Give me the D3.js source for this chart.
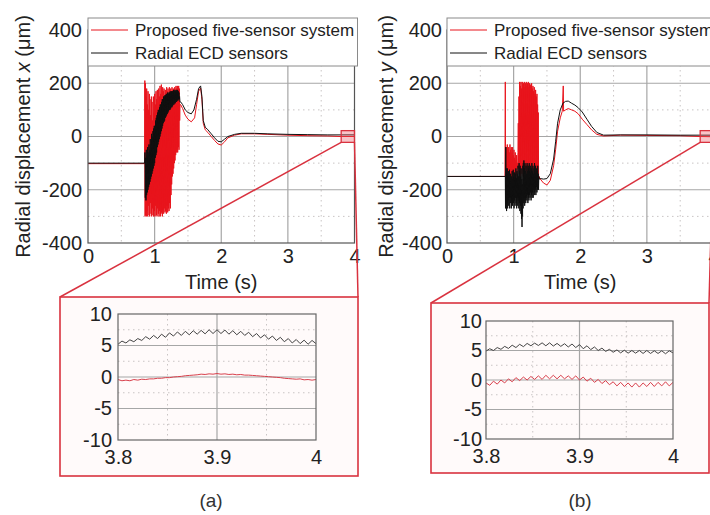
<!DOCTYPE html>
<html><head><meta charset="utf-8">
<script src="https://cdn.jsdelivr.net/npm/d3@7"></script>
<style>
html,body{margin:0;padding:0;background:#fff;}
svg{display:block;font-family:"Liberation Sans",Arial,sans-serif;}
</style></head><body>
<svg id="chart" width="710" height="515"></svg>
<script>
// ---------------- data ----------------
const seriesNames = ["Proposed five-sensor system", "Radial ECD sensors"];
const timeTicks = [0, 1, 2, 3, 4];
const dispTicks = [-400, -200, 0, 200, 400];
const zoomTimeTicks = [3.8, 3.9, 4];
const zoomDispTicks = [-10, -5, 0, 5, 10];
const panelTags = ["(a)", "(b)"];

// (a) radial displacement x, [time s, displacement um]
const proposedX = [
  [0,-102],[0.85,-102],
  [0.853,210],[0.857,-300],[0.861,200],[0.866,-295],[0.871,150],[0.876,-300],[0.881,180],[0.886,-280],
  [0.891,120],[0.896,-300],[0.901,170],[0.906,-260],[0.911,100],[0.916,-295],[0.921,160],[0.926,-300],
  [0.931,140],[0.936,-250],[0.941,80],[0.946,-290],[0.951,150],[0.956,-300],[0.961,130],[0.966,-270],
  [0.971,60],[0.976,-295],[0.981,150],[0.986,-300],[0.991,90],[0.996,-280],[1.001,160],[1.006,-300],
  [1.011,120],[1.016,-260],[1.021,170],[1.026,-295],[1.031,140],[1.036,-300],[1.041,175],[1.046,-270],
  [1.051,110],[1.056,-290],[1.061,180],[1.066,-300],[1.071,150],[1.076,-280],[1.081,190],[1.086,-300],
  [1.091,160],[1.096,-290],[1.101,195],[1.106,-285],[1.111,140],[1.116,-300],[1.121,185],[1.126,-280],
  [1.131,170],[1.136,-290],[1.141,180],[1.146,-270],[1.151,150],[1.156,-285],[1.161,175],[1.166,-280],
  [1.171,160],[1.176,-290],[1.181,185],[1.186,-260],[1.191,170],[1.196,-285],[1.201,180],[1.206,-270],
  [1.211,160],[1.216,-280],[1.221,185],[1.226,-250],[1.231,175],[1.236,-270],[1.241,180],[1.246,-220],
  [1.251,170],[1.256,-180],[1.261,185],[1.266,-150],[1.271,175],[1.276,-140],[1.281,180],[1.286,-120],
  [1.291,170],[1.296,-100],[1.301,185],[1.306,-90],[1.311,175],[1.316,-70],[1.321,190],[1.326,-60],
  [1.331,180],[1.336,-50],[1.341,190],[1.346,-60],[1.351,185],[1.356,-40],[1.361,190],[1.366,-50],
  [1.371,180],[1.376,60],[1.381,120],
  [1.39,120],[1.42,105],[1.46,80],[1.5,65],[1.55,55],[1.6,70],[1.63,120],[1.66,170],[1.69,182],
  [1.71,140],[1.73,50],[1.76,25],[1.8,15],[1.85,0],[1.9,-15],[1.95,-28],[2.0,-32],[2.05,-20],
  [2.1,-5],[2.2,5],[2.3,10],[2.5,10],[2.7,8],[3.0,5],[3.3,3],[3.6,2],[3.8,0],[4.0,0]
];
const ecdX = [
  [0,-100],[0.85,-100],
  [0.855,-60],[0.86,-230],[0.865,-80],[0.87,-240],[0.875,-50],[0.88,-220],[0.885,-70],[0.89,-210],
  [0.895,-40],[0.9,-200],[0.905,-60],[0.91,-190],[0.915,-30],[0.92,-180],[0.925,-50],[0.93,-170],
  [0.935,-10],[0.94,-160],[0.945,-30],[0.95,-150],[0.955,10],[0.96,-140],[0.965,0],[0.97,-130],
  [0.975,20],[0.98,-120],[0.985,30],[0.99,-110],[0.995,40],[1.0,-100],[1.005,40],[1.01,-80],
  [1.015,60],[1.02,-70],[1.025,70],[1.03,-60],[1.035,80],[1.04,-40],[1.045,90],[1.05,-30],
  [1.055,100],[1.06,-20],[1.065,100],[1.07,-10],[1.075,110],[1.08,0],[1.085,120],[1.09,10],
  [1.095,120],[1.1,20],[1.105,130],[1.11,30],[1.115,140],[1.12,40],[1.125,140],[1.13,50],
  [1.135,150],[1.14,55],[1.145,150],[1.15,60],[1.155,155],[1.16,70],[1.165,155],[1.17,75],
  [1.175,160],[1.18,80],[1.185,160],[1.19,85],[1.195,165],[1.2,90],[1.205,160],[1.21,95],
  [1.215,165],[1.22,100],[1.225,165],[1.23,100],[1.235,170],[1.24,105],[1.245,165],[1.25,110],
  [1.255,170],[1.26,110],[1.265,170],[1.27,115],[1.275,170],[1.28,120],[1.285,175],[1.29,120],
  [1.295,170],[1.3,125],[1.305,175],[1.31,125],[1.315,170],[1.32,130],[1.325,175],[1.33,130],
  [1.335,170],[1.34,135],[1.345,175],[1.35,135],[1.355,170],[1.36,140],[1.365,165],[1.37,140],
  [1.375,150],[1.38,130],
  [1.39,130],[1.42,120],[1.46,100],[1.5,90],[1.55,85],[1.59,100],[1.63,140],[1.66,180],[1.69,190],
  [1.71,150],[1.73,60],[1.76,35],[1.8,25],[1.85,10],[1.9,-5],[1.95,-18],[2.0,-20],[2.05,-10],
  [2.1,0],[2.2,8],[2.3,12],[2.5,12],[2.7,10],[3.0,8],[3.3,7],[3.6,6],[3.8,6],[4.0,6]
];

// (b) radial displacement y, [time s, displacement um]
const proposedY = [
  [0,-150],[0.87,-150],[0.875,205],[0.88,-250],
  [0.885,-60],[0.89,-230],[0.895,-40],[0.9,-200],[0.905,-30],[0.91,-220],[0.915,-50],[0.92,-190],
  [0.925,-40],[0.93,-210],[0.935,-60],[0.94,-180],[0.945,-30],[0.95,-200],[0.955,-50],[0.96,-170],
  [0.965,-40],[0.97,-190],[0.975,-60],[0.98,-160],[0.985,-40],[0.99,-180],[0.995,-70],[1.0,-150],
  [1.005,-50],[1.01,-170],[1.015,-80],[1.02,-150],[1.025,-60],[1.03,-160],[1.035,-90],[1.04,-140],
  [1.045,-70],[1.05,-150],[1.055,-100],[1.06,-120],[1.065,-60],[1.07,50],[1.075,-120],[1.08,150],
  [1.085,-140],[1.09,205],[1.095,-130],[1.1,190],[1.105,-150],[1.11,205],[1.115,-120],[1.12,180],
  [1.125,-140],[1.13,205],[1.135,-110],[1.14,195],[1.145,-150],[1.15,200],[1.155,-130],[1.16,205],
  [1.165,-140],[1.17,185],[1.175,-120],[1.18,200],[1.185,-150],[1.19,205],[1.195,-130],[1.2,190],
  [1.205,-140],[1.21,200],[1.215,-120],[1.22,205],[1.225,-150],[1.23,185],[1.235,-130],[1.24,200],
  [1.245,-140],[1.25,195],[1.255,-120],[1.26,190],[1.265,-150],[1.27,200],[1.275,-130],[1.28,180],
  [1.285,-140],[1.29,190],[1.295,-120],[1.3,170],[1.305,-140],[1.31,185],[1.315,-130],[1.32,160],
  [1.325,-150],[1.33,175],[1.335,-130],[1.34,150],[1.345,-140],[1.35,160],[1.355,-150],[1.36,120],
  [1.365,-140],[1.37,90],[1.375,-160],[1.38,-150],
  [1.4,-160],[1.45,-175],[1.5,-182],[1.55,-165],[1.6,-110],[1.63,-50],[1.66,20],[1.7,70],[1.73,95],
  [1.745,190],[1.75,95],[1.78,100],[1.82,105],[1.87,100],[1.92,95],[1.97,85],[2.03,65],[2.1,45],
  [2.17,25],[2.25,8],[2.35,2],[2.6,5],[3.0,4],[3.5,3],[3.8,0],[4.0,-1]
];
const ecdY = [
  [0,-150],[0.875,-150],
  [0.878,-270],[0.882,-40],[0.886,-260],[0.89,-120],[0.894,-280],[0.898,-140],[0.902,-250],[0.906,-120],
  [0.91,-270],[0.914,-150],[0.918,-240],[0.922,-130],[0.926,-260],[0.93,-160],[0.934,-230],[0.938,-125],
  [0.942,-270],[0.946,-160],[0.95,-250],[0.954,-140],[0.958,-230],[0.962,-170],[0.966,-270],[0.97,-150],
  [0.974,-240],[0.978,-130],[0.982,-260],[0.986,-160],[0.99,-220],[0.994,-125],[0.998,-250],[1.002,-150],
  [1.006,-270],[1.01,-135],[1.014,-240],[1.018,-165],[1.022,-260],[1.026,-140],[1.03,-230],[1.034,-120],
  [1.038,-250],[1.042,-155],[1.046,-270],[1.05,-130],[1.054,-230],[1.058,-140],[1.062,-260],[1.066,-110],
  [1.07,-240],[1.074,-150],[1.078,-270],[1.082,-100],[1.086,-250],[1.09,-130],[1.094,-280],[1.098,-110],
  [1.102,-260],[1.106,-150],[1.11,-290],[1.114,-120],[1.118,-310],[1.122,-160],[1.126,-340],[1.13,-180],
  [1.134,-300],[1.138,-110],[1.142,-270],[1.146,-100],[1.15,-250],[1.154,-90],[1.158,-230],[1.162,-120],
  [1.166,-260],[1.17,-100],[1.174,-240],[1.178,-130],[1.182,-250],[1.186,-110],[1.19,-230],[1.194,-140],
  [1.198,-240],[1.202,-100],[1.206,-220],[1.21,-130],[1.214,-250],[1.218,-110],[1.222,-230],[1.226,-120],
  [1.23,-240],[1.234,-100],[1.238,-220],[1.242,-130],[1.246,-230],[1.25,-110],[1.254,-210],[1.258,-140],
  [1.262,-240],[1.266,-120],[1.27,-220],[1.274,-100],[1.278,-230],[1.282,-130],[1.286,-210],[1.29,-110],
  [1.294,-230],[1.298,-140],[1.302,-200],[1.306,-120],[1.31,-220],[1.314,-100],[1.318,-210],[1.322,-130],
  [1.326,-200],[1.33,-110],[1.334,-220],[1.338,-140],[1.342,-190],[1.346,-120],[1.35,-210],[1.354,-130],
  [1.358,-200],[1.362,-110],[1.366,-190],[1.37,-140],[1.374,-200],[1.378,-150],[1.385,-160],
  [1.4,-158],[1.45,-160],[1.5,-158],[1.55,-140],[1.6,-85],[1.63,-20],[1.66,50],[1.7,100],[1.74,125],
  [1.78,132],[1.82,133],[1.87,125],[1.92,118],[1.97,108],[2.03,92],[2.1,65],[2.17,38],[2.25,15],
  [2.35,5],[2.6,6],[3.0,6],[3.5,5],[3.8,5],[4.0,5]
];

// enlarged window 3.8 s - 4.0 s
const zoomTime = [3.800,3.804,3.808,3.812,3.816,3.820,3.824,3.828,3.832,3.836,3.840,3.844,3.848,
  3.852,3.856,3.860,3.864,3.868,3.872,3.876,3.880,3.884,3.888,3.892,3.896,3.900,3.904,3.908,3.912,
  3.916,3.920,3.924,3.928,3.932,3.936,3.940,3.944,3.948,3.952,3.956,3.960,3.964,3.968,3.972,3.976,
  3.980,3.984,3.988,3.992,3.996,4.000];
const zoomProposedX = [-0.4,-0.6,-0.5,-0.6,-0.4,-0.5,-0.35,-0.4,-0.3,-0.3,
  -0.2,-0.2,-0.1,-0.1,0.0,0.05,0.1,0.2,0.25,0.3,
  0.35,0.45,0.4,0.5,0.45,0.55,0.45,0.5,0.4,0.45,
  0.35,0.4,0.3,0.3,0.25,0.2,0.15,0.1,0.05,0.0,
  -0.05,-0.1,-0.2,-0.25,-0.3,-0.35,-0.3,-0.45,-0.4,-0.5,-0.4];
const zoomEcdX = [5.2,5.7,5.4,5.9,5.6,6.1,5.8,6.4,6.0,6.6,
  6.1,6.8,6.3,7.0,6.5,7.15,6.6,7.25,6.7,7.35,
  6.8,7.4,6.85,7.5,6.9,7.5,6.9,7.45,6.8,7.35,
  6.7,7.25,6.6,7.1,6.4,6.9,6.2,6.7,6.0,6.5,
  5.8,6.3,5.6,6.1,5.4,5.95,5.3,5.85,5.2,5.8,5.3];
const zoomProposedY = [-0.5,-0.9,-0.2,-0.7,0.0,-0.5,0.2,-0.3,0.4,-0.1,
  0.5,0.0,0.6,0.1,0.7,0.1,0.8,0.2,0.8,0.2,
  0.8,0.2,0.7,0.1,0.7,0.0,0.5,-0.2,0.3,-0.4,
  0.1,-0.6,-0.1,-0.8,-0.3,-1.0,-0.4,-1.1,-0.5,-1.2,
  -0.5,-1.2,-0.5,-1.1,-0.4,-1.1,-0.4,-1.0,-0.3,-1.0,-0.4];
const zoomEcdY = [4.9,5.3,5.0,5.5,5.2,5.7,5.35,5.9,5.5,6.05,
  5.65,6.2,5.8,6.25,5.85,6.3,5.8,6.3,5.75,6.2,
  5.7,6.15,5.6,6.1,5.5,6.0,5.3,5.8,5.15,5.6,
  5.0,5.4,4.85,5.2,4.7,5.1,4.6,5.05,4.55,5.0,
  4.55,5.0,4.5,5.0,4.5,4.95,4.5,4.95,4.45,4.95,4.6];

// ---------------- drawing ----------------
const svg = d3.select("#chart");
const RED = "#e8141c", BLACK = "#111";
const GRID = "#a6a6a6", MINOR = "#c9c4c4";
const plain = d => String(d);   // keeps the ASCII hyphen for negative ticks

const pair = vals => vals.map((v, i) => [zoomTime[i], v]);

function styleAxis(g, size) {
  g.select(".domain").remove();
  g.selectAll(".tick line").remove();
  g.selectAll(".tick text").attr("font-size", size).attr("fill", "#222")
    .attr("font-family", "'Liberation Sans', Arial, sans-serif");
}

function mainPanel(opt) {
  const x = d3.scaleLinear().domain([0, 4]).range([opt.left, opt.left + 266.5]);
  const y = d3.scaleLinear().domain([-400, 400]).range([243, 30]);
  const g = svg.append("g");
  const id = "clip" + opt.key;
  svg.append("clipPath").attr("id", id).append("rect")
    .attr("x", x(0)).attr("y", y(400)).attr("width", x(4) - x(0)).attr("height", y(-400) - y(400));

  // minor dotted grid
  [0.5, 1.5, 2.5, 3.5].forEach(t => g.append("line")
    .attr("x1", x(t)).attr("x2", x(t)).attr("y1", y(400)).attr("y2", y(-400))
    .attr("stroke", MINOR).attr("stroke-dasharray", "1.5,3.5"));
  [-300, -100, 100, 300].forEach(v => g.append("line")
    .attr("x1", x(0)).attr("x2", x(4)).attr("y1", y(v)).attr("y2", y(v))
    .attr("stroke", MINOR).attr("stroke-dasharray", "1.5,3.5"));
  // major grid
  timeTicks.slice(1, -1).forEach(t => g.append("line")
    .attr("x1", x(t)).attr("x2", x(t)).attr("y1", y(400)).attr("y2", y(-400))
    .attr("stroke", GRID).attr("stroke-width", 1.2));
  dispTicks.slice(1, -1).forEach(v => g.append("line")
    .attr("x1", x(0)).attr("x2", x(4)).attr("y1", y(v)).attr("y2", y(v))
    .attr("stroke", GRID).attr("stroke-width", 1.2));

  const line = d3.line().x(d => x(d[0])).y(d => y(d[1]));
  const lines = g.append("g").attr("clip-path", `url(#${id})`);
  lines.append("path").attr("d", line(opt.proposed)).attr("fill", "none")
    .attr("stroke", RED).attr("stroke-width", 1).attr("stroke-linejoin", "round");
  lines.append("path").attr("d", line(opt.ecd)).attr("fill", "none")
    .attr("stroke", BLACK).attr("stroke-width", 1).attr("stroke-linejoin", "round");

  // frame
  g.append("rect").attr("x", x(0)).attr("y", y(400)).attr("width", x(4) - x(0))
    .attr("height", y(-400) - y(400)).attr("fill", "none").attr("stroke", "#555").attr("stroke-width", 1.2);

  // axes
  g.append("g").attr("transform", `translate(${x(0)},0)`)
    .call(d3.axisLeft(y).tickValues(dispTicks).tickSize(0).tickPadding(opt.yPad).tickFormat(plain))
    .call(a => styleAxis(a, 20));
  g.append("g").attr("transform", `translate(0,${y(-400)})`)
    .call(d3.axisBottom(x).tickValues(timeTicks).tickSize(0).tickPadding(6).tickFormat(plain))
    .call(a => styleAxis(a, 20));

  g.append("text").attr("x", (x(0) + x(4)) / 2).attr("y", 289).attr("text-anchor", "middle")
    .attr("font-size", 20).attr("fill", "#222").text("Time (s)");
  const yl = g.append("text").attr("transform", `translate(${opt.ylabX},${(y(400) + y(-400)) / 2}) rotate(-90)`)
    .attr("text-anchor", "middle").attr("dominant-baseline", "central").attr("font-size", 20).attr("fill", "#222");
  yl.append("tspan").text("Radial displacement ");
  yl.append("tspan").attr("font-style", "italic").text(opt.comp);
  yl.append("tspan").text(" (μm)");

  // legend
  const lg = g.append("g");
  lg.append("rect").attr("x", x(0)).attr("y", 18).attr("width", 269.5).attr("height", 48)
    .attr("fill", "#fff").attr("stroke", "#8a8a8a").attr("stroke-width", 1);
  [[RED, seriesNames[0], 30], [BLACK, seriesNames[1], 53]].forEach(([c, name, yy]) => {
    lg.append("line").attr("x1", x(0) + 3).attr("x2", x(0) + 40).attr("y1", yy).attr("y2", yy)
      .attr("stroke", c).attr("stroke-width", 1);
    lg.append("text").attr("x", x(0) + 47).attr("y", yy).attr("dy", "0.35em")
      .attr("font-size", 17).attr("fill", "#222").text(name);
  });
  return { x, y };
}

function zoomPanel(opt, sx, sy) {
  const g = svg.append("g");
  const f = opt.frame;
  // connectors from the highlighted window to the enlarged view
  const sq = { x0: sx(3.8), x1: sx(4), y0: sy(22), y1: sy(-22) };
  g.append("line").attr("x1", sq.x0).attr("y1", sq.y1).attr("x2", f.x0).attr("y2", f.y0)
    .attr("stroke", "#d9323f").attr("stroke-width", 1.5);
  g.append("line").attr("x1", sq.x1).attr("y1", sq.y1).attr("x2", f.x1).attr("y2", f.y0)
    .attr("stroke", "#d9323f").attr("stroke-width", 1.5);
  g.append("rect").attr("x", sq.x0).attr("y", sq.y0).attr("width", sq.x1 - sq.x0).attr("height", sq.y1 - sq.y0)
    .attr("fill", "rgba(235,90,100,0.35)").attr("stroke", "#d9323f").attr("stroke-width", 1.3);
  g.append("rect").attr("x", f.x0).attr("y", f.y0).attr("width", f.x1 - f.x0).attr("height", f.y1 - f.y0)
    .attr("fill", "#fffafa").attr("stroke", "#d9323f").attr("stroke-width", 1.6);

  const x = d3.scaleLinear().domain([3.8, 4]).range([opt.left, opt.right]);
  const y = d3.scaleLinear().domain([-10, 10]).range([opt.bottom, opt.top]);
  [3.85, 3.95].forEach(t => g.append("line").attr("x1", x(t)).attr("x2", x(t))
    .attr("y1", y(10)).attr("y2", y(-10)).attr("stroke", MINOR).attr("stroke-dasharray", "1.5,3.5"));
  [-7.5, -2.5, 2.5, 7.5].forEach(v => g.append("line").attr("x1", x(3.8)).attr("x2", x(4))
    .attr("y1", y(v)).attr("y2", y(v)).attr("stroke", MINOR).attr("stroke-dasharray", "1.5,3.5"));
  g.append("line").attr("x1", x(3.9)).attr("x2", x(3.9)).attr("y1", y(10)).attr("y2", y(-10))
    .attr("stroke", GRID).attr("stroke-width", 1.2);
  [-5, 0, 5].forEach(v => g.append("line").attr("x1", x(3.8)).attr("x2", x(4))
    .attr("y1", y(v)).attr("y2", y(v)).attr("stroke", GRID).attr("stroke-width", 1.2));

  const line = d3.line().x(d => x(d[0])).y(d => y(d[1]));
  g.append("path").attr("d", line(pair(opt.proposed))).attr("fill", "none")
    .attr("stroke", "#d8404c").attr("stroke-width", 1);
  g.append("path").attr("d", line(pair(opt.ecd))).attr("fill", "none")
    .attr("stroke", "#444").attr("stroke-width", 1);

  g.append("rect").attr("x", x(3.8)).attr("y", y(10)).attr("width", x(4) - x(3.8))
    .attr("height", y(-10) - y(10)).attr("fill", "none").attr("stroke", "#666").attr("stroke-width", 1.2);

  g.append("g").attr("transform", `translate(${x(3.8)},0)`)
    .call(d3.axisLeft(y).tickValues(zoomDispTicks).tickSize(0).tickPadding(opt.yPad).tickFormat(plain))
    .call(a => styleAxis(a, 20));
  g.append("g").attr("transform", `translate(0,${y(-10)})`)
    .call(d3.axisBottom(x).tickValues(zoomTimeTicks).tickSize(0).tickPadding(10).tickFormat(plain))
    .call(a => styleAxis(a, 20));

  g.append("text").attr("x", opt.tagX).attr("y", 500).attr("text-anchor", "middle")
    .attr("dominant-baseline", "central").attr("font-size", 19).attr("fill", "#333").text(opt.tag);
}

const pa = mainPanel({ key: "a", left: 88, proposed: proposedX, ecd: ecdX, comp: "x", ylabX: 23, yPad: 6 });
const pb = mainPanel({ key: "b", left: 447, proposed: proposedY, ecd: ecdY, comp: "y", ylabX: 386, yPad: 5 });

zoomPanel({ frame: { x0: 60, x1: 358, y0: 297, y1: 476 }, left: 118, right: 316, top: 314, bottom: 440,
  proposed: zoomProposedX, ecd: zoomEcdX, yPad: 6, tag: panelTags[0], tagX: 211 }, pa.x, pa.y);
zoomPanel({ frame: { x0: 431, x1: 709, y0: 303, y1: 473 }, left: 486, right: 673, top: 321, bottom: 439,
  proposed: zoomProposedY, ecd: zoomEcdY, yPad: 4, tag: panelTags[1], tagX: 580 }, pb.x, pb.y);
</script>
</body></html>
